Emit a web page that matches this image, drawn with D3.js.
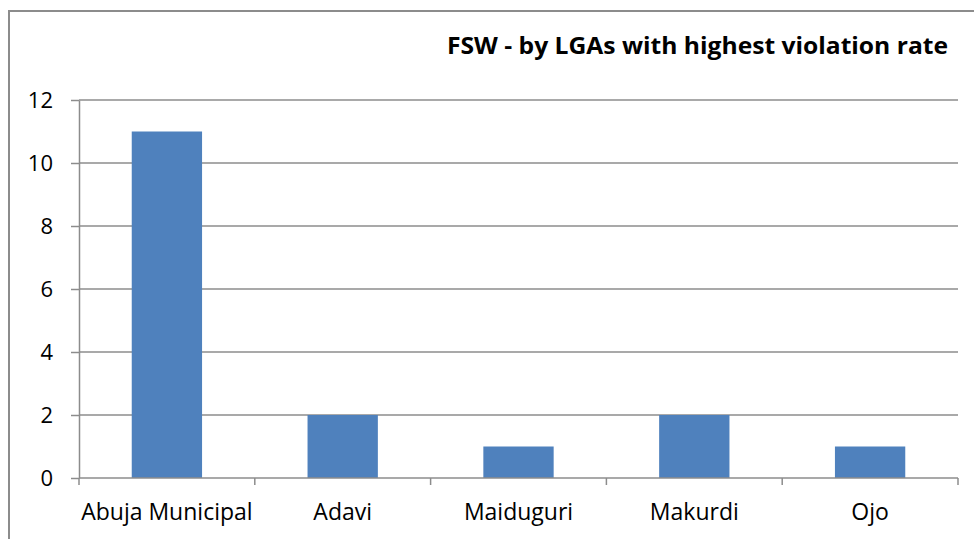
<!DOCTYPE html>
<html>
<head>
<meta charset="utf-8">
<script src="https://cdn.jsdelivr.net/npm/d3@7"></script>
<style>
  body { margin: 0; background: #fff; }
  svg { display: block; }
</style>
</head>
<body>
<svg id="svg"></svg>
<script>
// chart data
let categories = ["Abuja Municipal", "Adavi", "Maiduguri", "Makurdi", "Ojo"];
let values = [11, 2, 1, 2, 1];
let yTicks = [0, 2, 4, 6, 8, 10, 12];
let title = "FSW - by LGAs with highest violation rate";

let winWidth = 974;
let winHeight = 539;
let font = "'Open Sans', sans-serif";

let svg = d3.select("#svg")
            .attr("width", winWidth)
            .attr("height", winHeight);

// outer chart frame (only left/top visible in the picture)
svg.append("rect")
   .attr("x", 9).attr("y", 11)
   .attr("width", 1000).attr("height", 600)
   .attr("fill", "none")
   .attr("stroke", "#8c8c8c")
   .attr("stroke-width", 2);

let plot = { left: 79, right: 958, top: 100, bottom: 478 };

let x = d3.scaleBand()
          .domain(categories)
          .range([plot.left, plot.right])
          .paddingInner(0.6)
          .paddingOuter(0.3);

let y = d3.scaleLinear()
          .domain([0, 12])
          .range([plot.bottom, plot.top]);

// gridlines
svg.append("g")
   .selectAll("line")
   .data(yTicks.slice(1))
   .enter()
   .append("line")
   .attr("x1", plot.left).attr("x2", plot.right)
   .attr("y1", d => y(d)).attr("y2", d => y(d))
   .attr("stroke", "#8c8c8c")
   .attr("stroke-width", 1.5);

// bars
svg.append("g")
   .selectAll("rect")
   .data(values)
   .enter()
   .append("rect")
   .attr("x", (d, i) => x(categories[i]))
   .attr("y", d => y(d))
   .attr("width", x.bandwidth())
   .attr("height", d => y(0) - y(d))
   .attr("fill", "#4f81bd");

// y axis
let yAxis = svg.append("g")
   .attr("transform", "translate(" + plot.left + ",0)")
   .call(d3.axisLeft(y).tickValues(yTicks).tickSize(8).tickPadding(18).tickSizeOuter(0));
yAxis.select(".domain").attr("stroke", "#8c8c8c").attr("stroke-width", 1.5);
yAxis.selectAll(".tick line").attr("stroke", "#8c8c8c").attr("stroke-width", 1.5);
yAxis.selectAll(".tick text")
     .attr("font-family", font).attr("font-size", 22).attr("fill", "#000");

// x axis: ticks sit between categories
let step = x.step();
let xBounds = d3.range(categories.length + 1).map(i => plot.left + i * step);
let xAxis = svg.append("g");
xAxis.append("line")
     .attr("x1", plot.left).attr("x2", plot.right)
     .attr("y1", y(0)).attr("y2", y(0))
     .attr("stroke", "#8c8c8c").attr("stroke-width", 1.5);
xAxis.selectAll(".xt")
     .data(xBounds)
     .enter()
     .append("line")
     .attr("class", "xt")
     .attr("x1", d => d).attr("x2", d => d)
     .attr("y1", y(0)).attr("y2", y(0) + 7)
     .attr("stroke", "#8c8c8c").attr("stroke-width", 1.5);
xAxis.selectAll("text")
     .data(categories)
     .enter()
     .append("text")
     .attr("x", d => x(d) + x.bandwidth() / 2)
     .attr("y", 520)
     .attr("text-anchor", "middle")
     .attr("font-family", font)
     .attr("font-size", 23)
     .text(d => d);

// title
svg.append("text")
   .attr("x", 948)
   .attr("y", 54)
   .attr("text-anchor", "end")
   .attr("font-family", font)
   .attr("font-weight", "bold")
   .attr("font-size", 24)
   .attr("textLength", 501)
   .attr("lengthAdjust", "spacingAndGlyphs")
   .text(title);
</script>
</body>
</html>
